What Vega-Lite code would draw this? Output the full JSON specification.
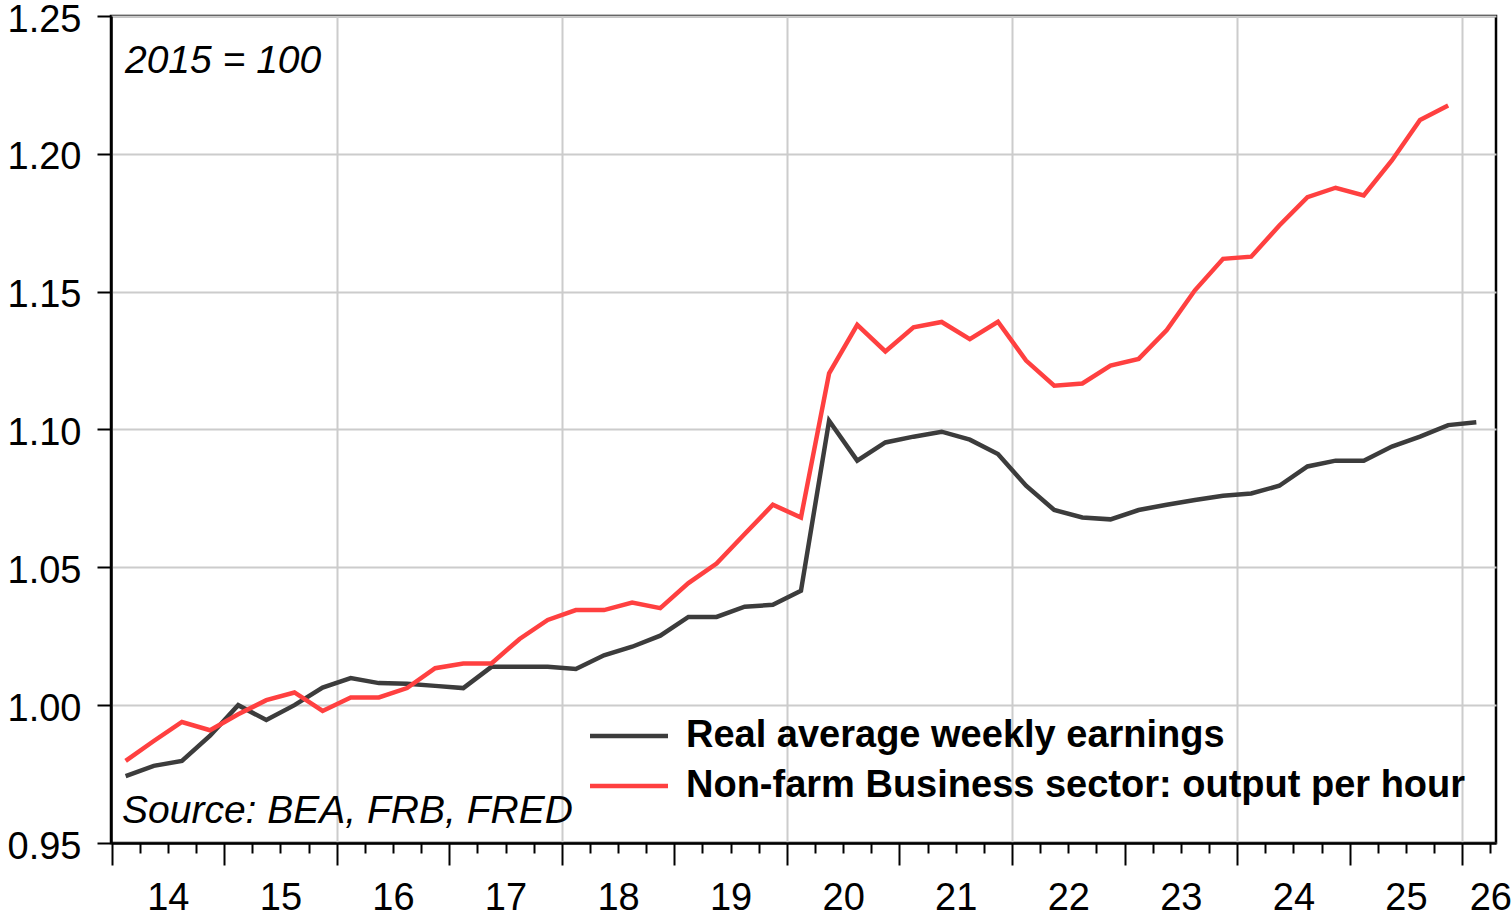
{
  "$schema": "https://vega.github.io/schema/vega-lite/v6.json",
  "width": 1385,
  "height": 827,
  "autosize": {"type": "none"},
  "padding": {"left": 111, "top": 16, "right": 16, "bottom": 75},
  "background": "white",
  "config": {
    "view": {"stroke": "black", "strokeWidth": 2.5},
    "font": "Liberation Sans",
    "axisX": {"labelOverlap": false, "labelFlush": false, "labelBound": false},
    "axisY": {"labelOverlap": false, "labelFlush": false, "labelBound": false}
  },
  "datasets": {
    "earnings": [
      {"t": 2014.125, "v": 0.9743}, {"t": 2014.375, "v": 0.978}, {"t": 2014.625, "v": 0.9798}, {"t": 2014.875, "v": 0.9889},
      {"t": 2015.125, "v": 1.0}, {"t": 2015.375, "v": 0.9946}, {"t": 2015.625, "v": 1.0}, {"t": 2015.875, "v": 1.0064},
      {"t": 2016.125, "v": 1.0098}, {"t": 2016.375, "v": 1.008}, {"t": 2016.625, "v": 1.0078}, {"t": 2016.875, "v": 1.007},
      {"t": 2017.125, "v": 1.0062}, {"t": 2017.375, "v": 1.0139}, {"t": 2017.625, "v": 1.0139}, {"t": 2017.875, "v": 1.0139},
      {"t": 2018.125, "v": 1.0131}, {"t": 2018.375, "v": 1.0181}, {"t": 2018.625, "v": 1.0212}, {"t": 2018.875, "v": 1.0252},
      {"t": 2019.125, "v": 1.032}, {"t": 2019.375, "v": 1.032}, {"t": 2019.625, "v": 1.0357}, {"t": 2019.875, "v": 1.0364},
      {"t": 2020.125, "v": 1.0415}, {"t": 2020.375, "v": 1.1032}, {"t": 2020.625, "v": 1.0887}, {"t": 2020.875, "v": 1.0953},
      {"t": 2021.125, "v": 1.0974}, {"t": 2021.375, "v": 1.0992}, {"t": 2021.625, "v": 1.0963}, {"t": 2021.875, "v": 1.0911},
      {"t": 2022.125, "v": 1.0796}, {"t": 2022.375, "v": 1.0708}, {"t": 2022.625, "v": 1.0681}, {"t": 2022.875, "v": 1.0674},
      {"t": 2023.125, "v": 1.0708}, {"t": 2023.375, "v": 1.0727}, {"t": 2023.625, "v": 1.0744}, {"t": 2023.875, "v": 1.076},
      {"t": 2024.125, "v": 1.0768}, {"t": 2024.375, "v": 1.0796}, {"t": 2024.625, "v": 1.0866}, {"t": 2024.875, "v": 1.0887},
      {"t": 2025.125, "v": 1.0887}, {"t": 2025.375, "v": 1.0938}, {"t": 2025.625, "v": 1.0974}, {"t": 2025.875, "v": 1.1016},
      {"t": 2026.125, "v": 1.1026}
    ],
    "productivity": [
      {"t": 2014.125, "v": 0.9798}, {"t": 2014.375, "v": 0.987}, {"t": 2014.625, "v": 0.9939}, {"t": 2014.875, "v": 0.9909},
      {"t": 2015.125, "v": 0.9967}, {"t": 2015.375, "v": 1.0018}, {"t": 2015.625, "v": 1.0046}, {"t": 2015.875, "v": 0.9979},
      {"t": 2016.125, "v": 1.0028}, {"t": 2016.375, "v": 1.0028}, {"t": 2016.625, "v": 1.0062}, {"t": 2016.875, "v": 1.0134},
      {"t": 2017.125, "v": 1.0151}, {"t": 2017.375, "v": 1.0151}, {"t": 2017.625, "v": 1.024}, {"t": 2017.875, "v": 1.0309},
      {"t": 2018.125, "v": 1.0345}, {"t": 2018.375, "v": 1.0345}, {"t": 2018.625, "v": 1.0372}, {"t": 2018.875, "v": 1.0352},
      {"t": 2019.125, "v": 1.0443}, {"t": 2019.375, "v": 1.0514}, {"t": 2019.625, "v": 1.0621}, {"t": 2019.875, "v": 1.0727},
      {"t": 2020.125, "v": 1.0681}, {"t": 2020.375, "v": 1.1204}, {"t": 2020.625, "v": 1.138}, {"t": 2020.875, "v": 1.1283},
      {"t": 2021.125, "v": 1.1371}, {"t": 2021.375, "v": 1.139}, {"t": 2021.625, "v": 1.1328}, {"t": 2021.875, "v": 1.1391},
      {"t": 2022.125, "v": 1.125}, {"t": 2022.375, "v": 1.1159}, {"t": 2022.625, "v": 1.1167}, {"t": 2022.875, "v": 1.1232},
      {"t": 2023.125, "v": 1.1256}, {"t": 2023.375, "v": 1.1361}, {"t": 2023.625, "v": 1.1505}, {"t": 2023.875, "v": 1.1619},
      {"t": 2024.125, "v": 1.1627}, {"t": 2024.375, "v": 1.174}, {"t": 2024.625, "v": 1.1843}, {"t": 2024.875, "v": 1.1877},
      {"t": 2025.125, "v": 1.1849}, {"t": 2025.375, "v": 1.1976}, {"t": 2025.625, "v": 1.2123}, {"t": 2025.875, "v": 1.2175}
    ]
  },
  "layer": [
    {
      "data": {"name": "earnings"},
      "mark": {"type": "line", "strokeWidth": 4.5},
      "encoding": {
        "x": {
          "field": "t",
          "type": "quantitative",
          "scale": {"domain": [2013.995, 2026.3], "nice": false, "zero": false},
          "axis": {
            "title": null,
            "values": [2014, 2014.25, 2014.5, 2014.75, 2015, 2015.25, 2015.5, 2015.75, 2016, 2016.25, 2016.5, 2016.75, 2017, 2017.25, 2017.5, 2017.75, 2018, 2018.25, 2018.5, 2018.75, 2019, 2019.25, 2019.5, 2019.75, 2020, 2020.25, 2020.5, 2020.75, 2021, 2021.25, 2021.5, 2021.75, 2022, 2022.25, 2022.5, 2022.75, 2023, 2023.25, 2023.5, 2023.75, 2024, 2024.25, 2024.5, 2024.75, 2025, 2025.25, 2025.5, 2025.75, 2026, 2026.25],
            "labelExpr": "(datum.value % 1 == 0.5 || datum.value > 2026.2) ? substring(toString(floor(datum.value)), 2, 4) : ''",
            "labelOverlap": false,
            "labelFlush": false,
            "labelBound": false,
            "labelFont": "Liberation Sans",
            "labelFontSize": 38,
            "labelColor": "black",
            "labelPadding": 26,
            "tickSize": {"condition": {"test": "datum.value % 1 == 0", "value": 22}, "value": 10},
            "tickColor": "black",
            "tickWidth": 2,
            "domainColor": "black",
            "domainWidth": 2.5,
            "grid": true,
            "gridColor": "#cccccc",
            "gridWidth": 2,
            "gridOpacity": {"condition": {"test": "datum.value % 2 == 0 && datum.value > 2015", "value": 1}, "value": 0}
          }
        },
        "y": {
          "field": "v",
          "type": "quantitative",
          "scale": {"domain": [0.95, 1.25], "nice": false, "zero": false},
          "axis": {
            "title": null,
            "values": [0.95, 1.0, 1.05, 1.1, 1.15, 1.2, 1.25],
            "format": ".2f",
            "labelFont": "Liberation Sans",
            "labelFontSize": 38,
            "labelColor": "black",
            "labelPadding": 16,
            "labelOffset": 4,
            "tickSize": 14,
            "tickColor": "black",
            "tickWidth": 2,
            "domainColor": "black",
            "domainWidth": 2.5,
            "grid": true,
            "gridColor": "#cccccc",
            "gridWidth": 2
          }
        },
        "color": {
          "datum": "Real average weekly earnings",
          "scale": {"domain": ["Real average weekly earnings", "Non-farm Business sector: output per hour"], "range": ["#3c3c3c", "#ff4040"]},
          "legend": {
            "orient": "none",
            "legendX": 496,
            "legendY": 698,
            "title": null,
            "padding": 0,
            "symbolType": "M-2,0H2",
            "symbolSize": 1521,
            "symbolStrokeWidth": 4.5,
            "symbolFillColor": "transparent",
            "labelFont": "Liberation Sans",
            "labelFontSize": 38,
            "labelFontWeight": "bold",
            "labelColor": "black",
            "labelLimit": 0,
            "labelOffset": 35,
            "rowPadding": 9,
            "direction": "vertical"
          }
        }
      }
    },
    {
      "data": {"name": "productivity"},
      "mark": {"type": "line", "strokeWidth": 4.5},
      "encoding": {
        "x": {
          "field": "t",
          "type": "quantitative",
          "scale": {"domain": [2013.995, 2026.3], "nice": false, "zero": false},
          "axis": {
            "title": null,
            "values": [2014, 2014.25, 2014.5, 2014.75, 2015, 2015.25, 2015.5, 2015.75, 2016, 2016.25, 2016.5, 2016.75, 2017, 2017.25, 2017.5, 2017.75, 2018, 2018.25, 2018.5, 2018.75, 2019, 2019.25, 2019.5, 2019.75, 2020, 2020.25, 2020.5, 2020.75, 2021, 2021.25, 2021.5, 2021.75, 2022, 2022.25, 2022.5, 2022.75, 2023, 2023.25, 2023.5, 2023.75, 2024, 2024.25, 2024.5, 2024.75, 2025, 2025.25, 2025.5, 2025.75, 2026, 2026.25],
            "labelExpr": "(datum.value % 1 == 0.5 || datum.value > 2026.2) ? substring(toString(floor(datum.value)), 2, 4) : ''",
            "labelOverlap": false,
            "labelFlush": false,
            "labelBound": false,
            "labelFont": "Liberation Sans",
            "labelFontSize": 38,
            "labelColor": "black",
            "labelPadding": 26,
            "tickSize": {"condition": {"test": "datum.value % 1 == 0", "value": 22}, "value": 10},
            "tickColor": "black",
            "tickWidth": 2,
            "domainColor": "black",
            "domainWidth": 2.5,
            "grid": true,
            "gridColor": "#cccccc",
            "gridWidth": 2,
            "gridOpacity": {"condition": {"test": "datum.value % 2 == 0 && datum.value > 2015", "value": 1}, "value": 0}
          }
        },
        "y": {"field": "v", "type": "quantitative"},
        "color": {"datum": "Non-farm Business sector: output per hour"}
      }
    },
    {
      "data": {"values": [{"label": "2015 = 100"}]},
      "mark": {"type": "text", "align": "left", "baseline": "alphabetic", "font": "Liberation Sans", "fontSize": 39, "fontStyle": "italic", "fill": "black"},
      "encoding": {
        "x": {
          "datum": 2014.119,
          "type": "quantitative",
          "axis": {
            "title": null,
            "values": [2014, 2014.25, 2014.5, 2014.75, 2015, 2015.25, 2015.5, 2015.75, 2016, 2016.25, 2016.5, 2016.75, 2017, 2017.25, 2017.5, 2017.75, 2018, 2018.25, 2018.5, 2018.75, 2019, 2019.25, 2019.5, 2019.75, 2020, 2020.25, 2020.5, 2020.75, 2021, 2021.25, 2021.5, 2021.75, 2022, 2022.25, 2022.5, 2022.75, 2023, 2023.25, 2023.5, 2023.75, 2024, 2024.25, 2024.5, 2024.75, 2025, 2025.25, 2025.5, 2025.75, 2026, 2026.25],
            "labelExpr": "(datum.value % 1 == 0.5 || datum.value > 2026.2) ? substring(toString(floor(datum.value)), 2, 4) : ''",
            "labelOverlap": false,
            "labelFlush": false,
            "labelBound": false,
            "labelFont": "Liberation Sans",
            "labelFontSize": 38,
            "labelColor": "black",
            "labelPadding": 26,
            "tickSize": {"condition": {"test": "datum.value % 1 == 0", "value": 22}, "value": 10},
            "tickColor": "black",
            "tickWidth": 2,
            "domainColor": "black",
            "domainWidth": 2.5,
            "grid": true,
            "gridColor": "#cccccc",
            "gridWidth": 2,
            "gridOpacity": {"condition": {"test": "datum.value % 2 == 0 && datum.value > 2015", "value": 1}, "value": 0}
          }
        },
        "y": {"datum": 1.2295, "type": "quantitative"},
        "text": {"field": "label", "type": "nominal"}
      }
    },
    {
      "data": {"values": [{"label": "Source: BEA, FRB, FRED"}]},
      "mark": {"type": "text", "align": "left", "baseline": "alphabetic", "font": "Liberation Sans", "fontSize": 39, "fontStyle": "italic", "fill": "black"},
      "encoding": {
        "x": {
          "datum": 2014.093,
          "type": "quantitative",
          "axis": {
            "title": null,
            "values": [2014, 2014.25, 2014.5, 2014.75, 2015, 2015.25, 2015.5, 2015.75, 2016, 2016.25, 2016.5, 2016.75, 2017, 2017.25, 2017.5, 2017.75, 2018, 2018.25, 2018.5, 2018.75, 2019, 2019.25, 2019.5, 2019.75, 2020, 2020.25, 2020.5, 2020.75, 2021, 2021.25, 2021.5, 2021.75, 2022, 2022.25, 2022.5, 2022.75, 2023, 2023.25, 2023.5, 2023.75, 2024, 2024.25, 2024.5, 2024.75, 2025, 2025.25, 2025.5, 2025.75, 2026, 2026.25],
            "labelExpr": "(datum.value % 1 == 0.5 || datum.value > 2026.2) ? substring(toString(floor(datum.value)), 2, 4) : ''",
            "labelOverlap": false,
            "labelFlush": false,
            "labelBound": false,
            "labelFont": "Liberation Sans",
            "labelFontSize": 38,
            "labelColor": "black",
            "labelPadding": 26,
            "tickSize": {"condition": {"test": "datum.value % 1 == 0", "value": 22}, "value": 10},
            "tickColor": "black",
            "tickWidth": 2,
            "domainColor": "black",
            "domainWidth": 2.5,
            "grid": true,
            "gridColor": "#cccccc",
            "gridWidth": 2,
            "gridOpacity": {"condition": {"test": "datum.value % 2 == 0 && datum.value > 2015", "value": 1}, "value": 0}
          }
        },
        "y": {"datum": 0.9572, "type": "quantitative"},
        "text": {"field": "label", "type": "nominal"}
      }
    }
  ]
}
